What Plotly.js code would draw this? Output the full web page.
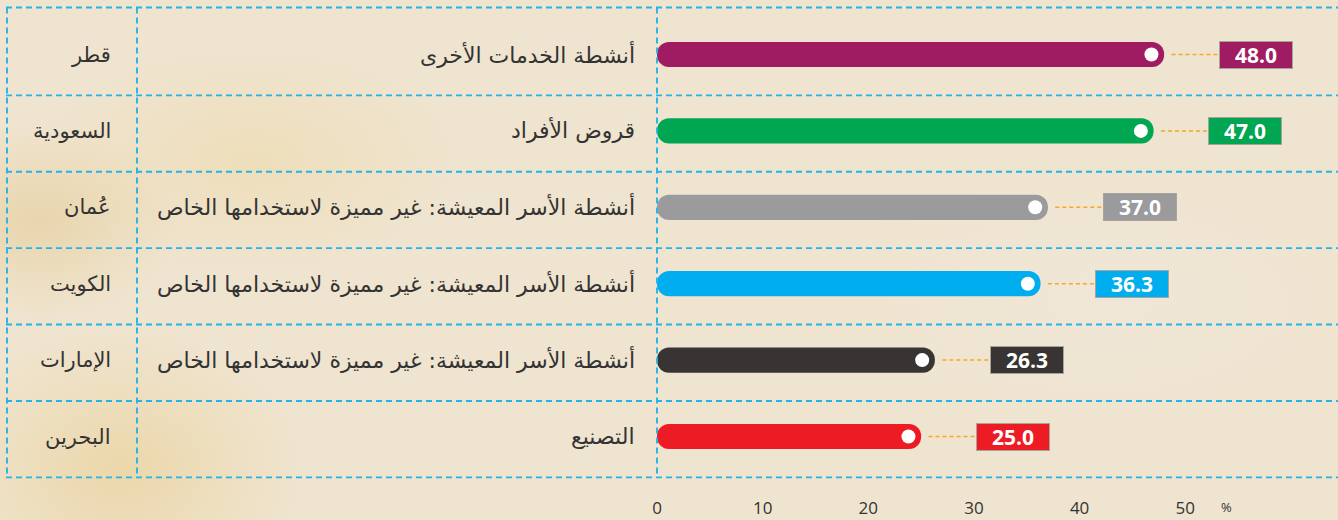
<!DOCTYPE html>
<html><head><meta charset="utf-8">
<script src="https://cdn.plot.ly/plotly-3.0.1.min.js"></script>
<style>
html,body{margin:0;padding:0;}
body{width:1338px;height:520px;overflow:hidden;
background:
radial-gradient(ellipse 260px 200px at 120px 470px, rgba(232,205,140,0.55), rgba(232,205,140,0) 70%),
radial-gradient(ellipse 300px 160px at 250px 160px, rgba(236,214,160,0.45), rgba(236,214,160,0) 70%),
radial-gradient(ellipse 200px 140px at 40px 220px, rgba(225,195,130,0.45), rgba(225,195,130,0) 70%),
radial-gradient(ellipse 400px 200px at 1100px 300px, rgba(240,232,220,0.6), rgba(240,232,220,0) 70%),
#efe4cf;}
#chart{width:1338px;height:520px;}
</style></head>
<body><div id="chart"></div>
<script>
const countries = ['قطر','السعودية','عُمان','الكويت','الإمارات','البحرين'];
const sectors = ['أنشطة الخدمات الأخرى','قروض الأفراد','أنشطة الأسر المعيشة: غير مميزة لاستخدامها الخاص','أنشطة الأسر المعيشة: غير مميزة لاستخدامها الخاص','أنشطة الأسر المعيشة: غير مميزة لاستخدامها الخاص','التصنيع'];
const values = [48.0, 47.0, 37.0, 36.3, 26.3, 25.0];
const colors = ['#a01c62','#00a651','#9b9a9c','#00aeef','#383433','#ed1c24'];
const tickVals = [0,10,20,30,40,50];
const tickText = ['0','10','20','30','40','50'];
const unitLabel = '%';

const rows = values.map((v,i)=>i);
const W = 1338;
const pxPerUnit = 10.565;
const x0px = 657;
const xr = [-x0px/pxPerUnit, (W-x0px)/pxPerUnit];
const rowPx = 76.4, firstPx = 54.5, plotH = 496;
const ya = -firstPx/rowPx, yb = ya + plotH/rowPx;

const traces = [];
traces.push({type:'bar', orientation:'h', x:values, y:rows, base:0, width:0.33,
  marker:{color:colors, cornerradius:'50%', line:{width:0}}, hoverinfo:'skip'});
const cx=[], cy=[];
values.forEach((v,i)=>{cx.push(v+0.7, v+5.2, null); cy.push(i,i,null);});
traces.push({type:'scatter', mode:'lines', x:cx, y:cy, line:{color:'#f6a91e', width:1.5, dash:'4px,3px'}, hoverinfo:'skip'});
traces.push({type:'scatter', mode:'markers', x:values.map(v=>v-1.2), y:rows,
  marker:{color:'#ffffff', size:14, line:{width:0}}, hoverinfo:'skip'});

const shapes = [];
const dashLine = {color:'#26b3e6', width:1.9, dash:'6px,4px'};
const hb = [-0.615].concat(values.map((v,i)=>i+0.535));
hb.forEach(y=>shapes.push({type:'line', xref:'paper', yref:'y', x0:6/W, x1:1, y0:y, y1:y, line:dashLine}));
[7,137,657].forEach(px=>shapes.push({type:'line', xref:'paper', yref:'y', x0:px/W, x1:px/W, y0:hb[0], y1:hb[hb.length-1], line:dashLine}));

const annotations = [];
values.forEach((v,i)=>{
  annotations.push({xref:'paper', yref:'y', x:113/W, y:i, xanchor:'right', yanchor:'middle', showarrow:false,
    text:countries[i], font:{family:'DejaVu Sans', size:21, color:'#333'}});
  annotations.push({xref:'paper', yref:'y', x:637/W, y:i, xanchor:'right', yanchor:'middle', showarrow:false,
    text:sectors[i], font:{family:'DejaVu Sans', size:22, color:'#333'}});
  annotations.push({xref:'x', yref:'y', x:v+8.7, y:i, xanchor:'center', yanchor:'middle', showarrow:false,
    text:'<b>'+v.toFixed(1)+'</b>', bgcolor:colors[i], bordercolor:'#a8a39b', borderwidth:1, borderpad:1,
    width:70, height:24, font:{family:'Open Sans', size:21, color:'#ffffff'}});
});
annotations.push({xref:'x', yref:'paper', x:(1226-x0px)/pxPerUnit, y:-0.022, xanchor:'center', yanchor:'middle', showarrow:false,
  text:unitLabel, font:{family:'Open Sans', size:13, color:'#333'}});

const layout = {
  width:W, height:520, margin:{l:0,r:0,t:0,b:24},
  paper_bgcolor:'rgba(0,0,0,0)', plot_bgcolor:'rgba(0,0,0,0)',
  showlegend:false, barmode:'overlay',
  xaxis:{range:xr, tickvals:tickVals, ticktext:tickText, showgrid:false, zeroline:false, showline:false,
    ticks:'', tickfont:{family:'Open Sans', size:17, color:'#333'}, fixedrange:true},
  yaxis:{range:[yb, ya], showticklabels:false, showgrid:false, zeroline:false, showline:false, fixedrange:true},
  shapes:shapes, annotations:annotations
};
Plotly.newPlot('chart', traces, layout, {staticPlot:true, displayModeBar:false});
</script></body></html>
